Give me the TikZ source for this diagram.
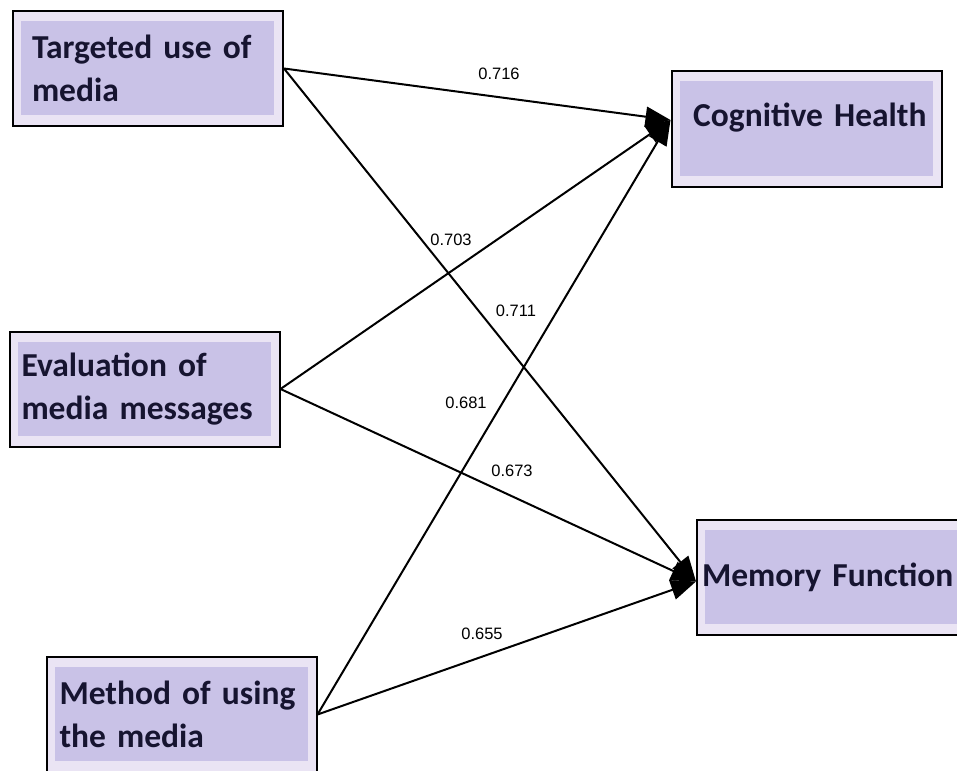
\documentclass[tikz,border=0pt]{standalone}
\usepackage{fontspec}
\setmainfont{Carlito}
\newfontfamily\numfont{Liberation Sans}
\usetikzlibrary{arrows.meta}
\definecolor{cLav}{RGB}{201,194,231}
\definecolor{cLavLight}{RGB}{234,228,244}
\definecolor{cInk}{RGB}{22,20,48}

\begin{document}
\begin{tikzpicture}[x=1pt, y=-1pt,
        varbox/.style={draw=black, line width=2pt, fill=cLavLight, minimum width=270pt, minimum height=115pt,
            text width=232pt, align=left, inner sep=0pt, text=cInk, font=\fontsize{33.5}{43}\selectfont\bfseries,
            path picture={\fill[cLav] ([shift={(8pt,-10pt)}]path picture bounding box.north west)
                rectangle ([shift={(-9pt,11pt)}]path picture bounding box.south east);}},
        link/.style={line width=2pt, -{Triangle[length=25pt,width=20pt]}},
        coef/.style={font=\numfont\fontsize{16.5}{20}\selectfont, inner sep=1pt}]
        \useasboundingbox (0,0) rectangle (957,770);
        \clip (0,0) rectangle (957,770);
        
        \node[varbox] (tgt) at (148,68.5) {Targeted use of\\media};
        \node[varbox, text width=246pt] (eval) at (144.5,389) {Evaluation of\\media messages};
        \node[varbox, text width=244pt] (meth) at (181.5,714.5) {Method of using\\the media};
        
        \node[varbox, text width=240pt, align=right, text depth=28pt] (cog) at (806.5,129) {Cognitive Health};
        \node[varbox, text width=260pt] (mem) at (832,577.5) {Memory Function};
        
        \draw[link] (tgt.east) -- ([yshift=9pt]cog.west);
        \draw[link] (eval.east) -- ([yshift=9pt]cog.west);
        \draw[link] (meth.east) -- ([yshift=9pt]cog.west);
        \draw[link] (tgt.east) -- ([yshift=-4pt]mem.west);
        \draw[link] (eval.east) -- ([yshift=-4pt]mem.west);
        \draw[link] (meth.east) -- ([yshift=-4pt]mem.west);
        
        \node[coef] (c1) at (499,74) {0.716};
        \node[coef] (c2) at (451,240) {0.703};
        \node[coef] (c3) at (516,311) {0.711};
        \node[coef] (c4) at (466,403) {0.681};
        \node[coef] (c5) at (512,471) {0.673};
        \node[coef] (c6) at (482,634) {0.655};
    \end{tikzpicture}
\end{document}
